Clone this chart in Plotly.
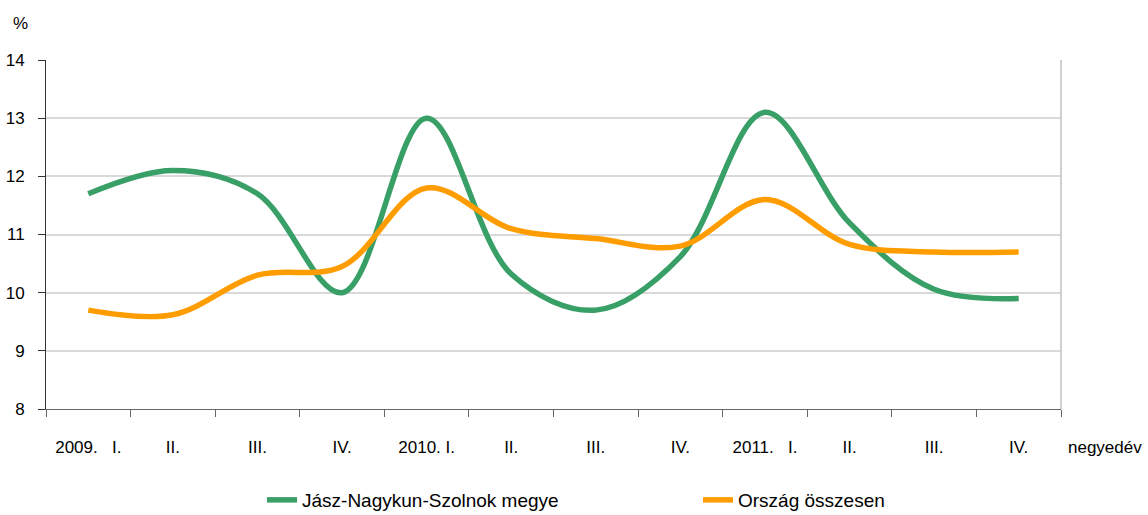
import plotly.graph_objects as go

NB = "\u00a0"
quarters = ["2009." + NB * 3 + "I.", "II.", "III.", "IV.",
            "2010." + NB + "I.", "II.", "III.", "IV.",
            "2011." + NB * 3 + "I.", "II.", "III.", "IV."]
jnsz = [11.7, 12.1, 11.7, 10.0, 13.0, 10.32, 9.7, 10.62, 13.1, 11.2, 10.06, 9.9]
orszag = [9.7, 9.62, 10.3, 10.45, 11.8, 11.1, 10.93, 10.8, 11.6, 10.83, 10.7, 10.7]

x = list(range(len(quarters)))
FONT = "Liberation Sans, Arial, sans-serif"

# plot area in page pixels: left 46, right 1061, top 60, bottom 409
L, R, T, B = 46, 1061, 60, 409
PW, PH = R - L, B - T

fig = go.Figure()
fig.add_trace(go.Scatter(x=x, y=jnsz, mode="lines", name="Jász-Nagykun-Szolnok megye",
                         line=dict(color="#389f66", width=5.5, shape="spline", smoothing=1.0),
                         legend="legend"))
fig.add_trace(go.Scatter(x=x, y=orszag, mode="lines", name="Ország összesen",
                         line=dict(color="#ff9c00", width=5.5, shape="spline", smoothing=1.0),
                         legend="legend2"))

fig.update_layout(
    width=1148, height=515,
    margin=dict(l=L, r=1148 - R, t=T, b=515 - B, autoexpand=False),
    paper_bgcolor="white", plot_bgcolor="white",
    font=dict(family=FONT, size=17, color="#000000"),
    showlegend=True,
    legend=dict(x=(262 - L) / PW, y=(B - 500) / PH, xanchor="left", yanchor="middle",
                orientation="h", font=dict(size=19), bgcolor="rgba(0,0,0,0)"),
    legend2=dict(x=(698 - L) / PW, y=(B - 500) / PH, xanchor="left", yanchor="middle",
                 orientation="h", font=dict(size=19), bgcolor="rgba(0,0,0,0)"),
    xaxis=dict(
        range=[-0.5, len(quarters) - 0.5],
        tickmode="array", tickvals=x, ticktext=quarters,
        ticks="", showgrid=False, zeroline=False, automargin=False,
        showline=True, linecolor="#666666", linewidth=1,
        tickfont=dict(size=17),
        ticklabelstandoff=23,
        minor=dict(tickmode="array", tickvals=[i - 0.5 for i in range(len(quarters) + 1)],
                   ticks="outside", ticklen=7, tickcolor="#666666", tickwidth=1, showgrid=False),
    ),
    yaxis=dict(
        range=[8, 14], tickmode="linear", tick0=8, dtick=1,
        showgrid=True, gridcolor="#d9d9d9", gridwidth=1.5,
        zeroline=False, showline=True, linecolor="#333333", linewidth=1,
        ticks="outside", ticklen=7, tickcolor="#333333", automargin=False,
        tickfont=dict(size=17), ticklabelstandoff=10,
    ),
    shapes=[dict(type="line", xref="paper", yref="paper", x0=1, x1=1, y0=0, y1=1,
                 line=dict(color="#c0c0c0", width=1.5))],
    annotations=[
        dict(text="%", xref="paper", yref="paper", x=(20 - L) / PW, y=(B - 23) / PH,
             xanchor="center", yanchor="middle", showarrow=False, font=dict(size=17)),
        dict(text="negyedév", xref="paper", yref="paper", x=(1066 - L) / PW,
             y=(B - 447) / PH, xanchor="left", yanchor="middle", showarrow=False,
             font=dict(size=17)),
    ],
)

fig.write_html("out.html", config={"displayModeBar": False},
               post_script="document.body.style.margin='0';document.body.style.overflow='hidden';")
